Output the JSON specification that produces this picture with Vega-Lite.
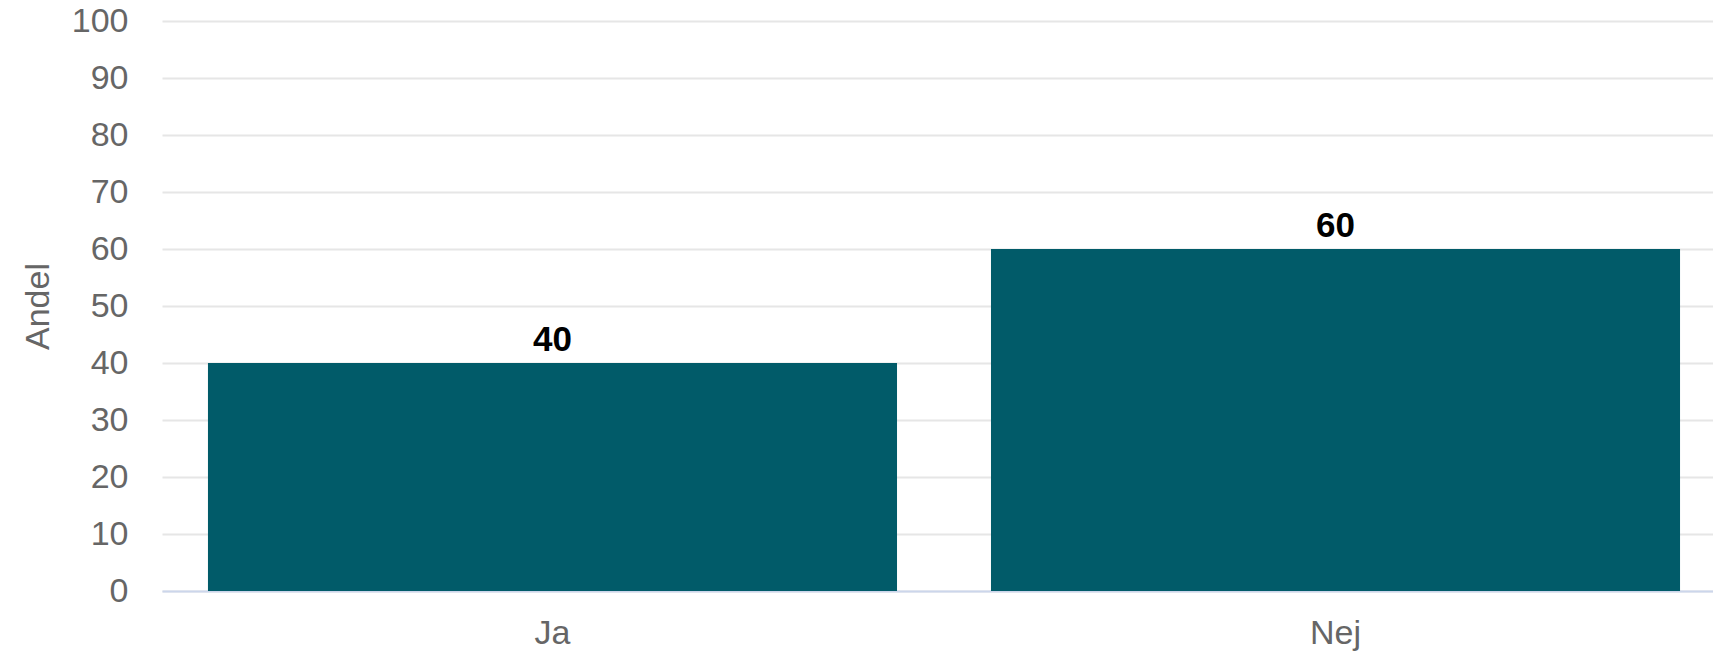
{
  "$schema": "https://vega.github.io/schema/vega-lite/v6.json",
  "autosize": "none",
  "width": 1551,
  "height": 570,
  "padding": {"left": 162, "top": 21, "right": 0, "bottom": 60},
  "background": "white",
  "config": {
    "view": {"stroke": null},
    "font": "Liberation Sans"
  },
  "data": {
    "values": [
      {"svar": "Ja", "andel": 40},
      {"svar": "Nej", "andel": 60}
    ]
  },
  "encoding": {
    "x": {
      "field": "svar",
      "type": "nominal",
      "sort": null,
      "scale": {"paddingInner": 0.12, "paddingOuter": 0.0587, "range": [0, 1564]},
      "axis": {
        "title": null,
        "labelAngle": 0,
        "labelFontSize": 34,
        "labelColor": "#666666",
        "labelBaseline": "alphabetic",
        "labelPadding": 52,
        "ticks": false,
        "domainColor": "#ccd6eb",
        "domainWidth": 2,
        "grid": false
      }
    },
    "y": {
      "field": "andel",
      "type": "quantitative",
      "scale": {"domain": [0, 100], "nice": false},
      "axis": {
        "title": "Andel",
        "titleFontSize": 34,
        "titleFontWeight": "normal",
        "titleColor": "#666666",
        "titlePadding": 16,
        "values": [0, 10, 20, 30, 40, 50, 60, 70, 80, 90, 100],
        "labelFontSize": 34,
        "labelColor": "#666666",
        "labelPadding": 34,
        "ticks": false,
        "domain": false,
        "gridColor": "#e6e6e6",
        "gridWidth": 2
      }
    }
  },
  "layer": [
    {
      "mark": {"type": "bar", "color": "#015b69"}
    },
    {
      "mark": {
        "type": "text",
        "dy": -12,
        "baseline": "alphabetic",
        "fontSize": 35,
        "fontWeight": "bold",
        "color": "#000000"
      },
      "encoding": {
        "text": {"field": "andel", "type": "quantitative"}
      }
    }
  ]
}
